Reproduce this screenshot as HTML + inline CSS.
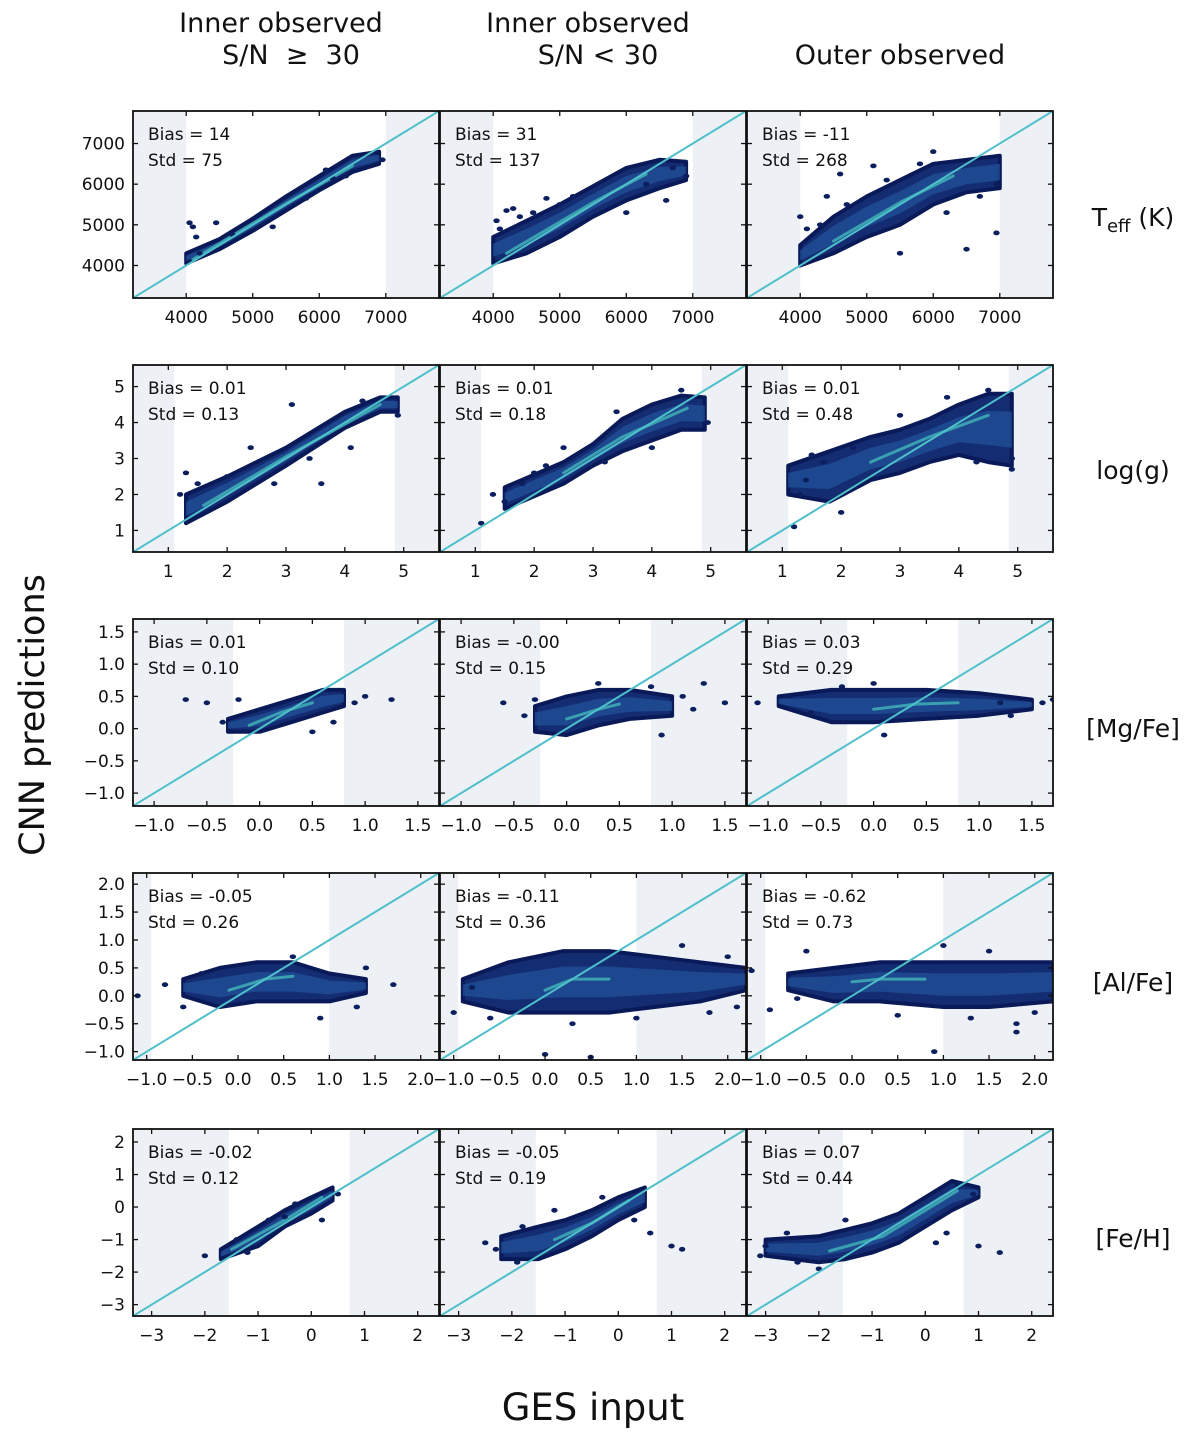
<!DOCTYPE html>
<html><head><meta charset="utf-8"><style>
body{margin:0;background:#fff}
svg{display:block;font-family:"DejaVu Sans","Liberation Sans",sans-serif}
</style></head><body>
<svg id="fig" width="1200" height="1433" viewBox="0 0 1200 1433" xmlns="http://www.w3.org/2000/svg">
<g font-size="27" text-anchor="middle" fill="#111">
<text x="281" y="32">Inner observed</text>
<text x="291" y="64" xml:space="preserve">S/N  ≥  30</text>
<text x="588" y="32">Inner observed</text>
<text x="598" y="64">S/N &lt; 30</text>
<text x="900" y="64">Outer observed</text>
</g>
<g font-size="25" text-anchor="middle" fill="#111">
<text x="1133" y="226">T<tspan font-size="18" dy="6">eff</tspan><tspan dy="-6"> (K)</tspan></text>
<text x="1133" y="479">log(g)</text>
<text x="1133" y="737">[Mg/Fe]</text>
<text x="1133" y="991">[Al/Fe]</text>
<text x="1133" y="1247">[Fe/H]</text>
</g>
<text x="0" y="0" transform="translate(44,715) rotate(-90)" font-size="35" text-anchor="middle" fill="#111">CNN predictions</text>
<text x="593" y="1420" font-size="37" text-anchor="middle" fill="#111">GES input</text>
<g id="panels"></g>
</svg>
<script>
const rowNames = ["teff","logg","mgfe","alfe","feh"];
const rowRanges = [[3200,7800],[0.4,5.6],[-1.2,1.7],[-1.15,2.2],[-3.35,2.4]];
const rowTicks = [[4000,5000,6000,7000],[1,2,3,4,5],[-1.0,-0.5,0.0,0.5,1.0,1.5],[-1.0,-0.5,0.0,0.5,1.0,1.5,2.0],[-3,-2,-1,0,1,2]];
const tickDecimals = [0,0,1,1,0];
const shadeLow = [4000,1.1,-0.25,-0.95,-1.55];
const shadeHigh = [7000,4.85,0.8,1.0,0.72];
const biasVals = [["14","31","-11"],["0.01","0.01","0.01"],["0.01","-0.00","0.03"],["-0.05","-0.11","-0.62"],["-0.02","-0.05","0.07"]];
const stdVals = [["75","137","268"],["0.13","0.18","0.48"],["0.10","0.15","0.29"],["0.26","0.36","0.73"],["0.12","0.19","0.44"]];
// density band per panel: [x, yLow, yHigh]
const bands = [
 [[[4000,4050,4300],[4500,4400,4650],[5000,4850,5150],[5500,5350,5700],[6000,5850,6200],[6500,6300,6700],[6900,6500,6800]],
  [[4000,4050,4700],[4500,4300,5100],[5000,4700,5500],[5500,5200,5950],[6000,5600,6400],[6500,5900,6600],[6900,6100,6550]],
  [[4000,4000,4500],[4500,4300,5200],[5000,4700,5700],[5500,5000,6100],[6000,5500,6500],[6500,5800,6600],[7000,5900,6700]]],
 [[[1.3,1.2,2.0],[2,1.8,2.5],[3,2.8,3.3],[4,3.85,4.3],[4.6,4.3,4.7],[4.9,4.3,4.7]],
  [[1.5,1.6,2.2],[2.5,2.3,2.9],[3,2.8,3.4],[3.5,3.2,4.1],[4,3.5,4.5],[4.5,3.8,4.75],[4.9,3.8,4.7]],
  [[1.1,2.0,2.8],[1.8,1.8,3.2],[2.5,2.4,3.6],[3,2.6,3.8],[3.5,2.9,4.1],[4,3.1,4.5],[4.5,2.9,4.8],[4.9,2.8,4.8]]],
 [[[-0.3,-0.05,0.15],[0,-0.05,0.3],[0.3,0.1,0.45],[0.6,0.25,0.6],[0.8,0.35,0.6]],
  [[-0.3,-0.05,0.35],[0,-0.1,0.5],[0.3,0.05,0.6],[0.6,0.15,0.6],[1.0,0.2,0.5]],
  [[-0.9,0.35,0.5],[-0.4,0.1,0.6],[0,0.1,0.6],[0.5,0.15,0.6],[1.0,0.2,0.55],[1.5,0.3,0.45]]],
 [[[-0.6,0.0,0.3],[-0.2,-0.2,0.5],[0.2,-0.1,0.6],[0.6,-0.1,0.6],[1.0,-0.1,0.4],[1.4,0.05,0.3]],
  [[-0.9,-0.1,0.3],[-0.4,-0.3,0.6],[0.2,-0.3,0.8],[0.7,-0.3,0.8],[1.2,-0.2,0.7],[1.7,-0.1,0.6],[2.2,0.1,0.5]],
  [[-0.7,0.1,0.4],[-0.2,-0.1,0.5],[0.3,-0.1,0.6],[1.0,-0.2,0.6],[1.5,-0.2,0.6],[2.2,-0.1,0.6]]],
 [[[-1.7,-1.6,-1.3],[-1,-1.2,-0.6],[-0.5,-0.6,-0.1],[0,-0.2,0.3],[0.4,0.2,0.6]],
  [[-2.2,-1.6,-0.9],[-1.5,-1.6,-0.6],[-1,-1.3,-0.4],[-0.5,-0.9,-0.1],[0,-0.4,0.3],[0.5,0,0.6]],
  [[-3,-1.5,-1.0],[-2,-1.7,-0.9],[-1.5,-1.6,-0.7],[-1,-1.4,-0.5],[-0.5,-1.1,-0.2],[0,-0.6,0.3],[0.5,-0.1,0.8],[1.0,0.3,0.6]]]
];
// bright core ridge per panel: [x, y]
const cores = [
 [[[4100,4150],[5500,5520],[6500,6450]],[[4200,4300],[5500,5550],[6300,6250]],[[4500,4600],[5500,5550],[6300,6200]]],
 [[[1.6,1.7],[3,3.05],[4.6,4.5]],[[2.5,2.6],[3.5,3.6],[4.6,4.4]],[[2.5,2.9],[3.5,3.6],[4.5,4.2]]],
 [[[-0.1,0.05],[0.2,0.25],[0.5,0.4]],[[0.0,0.15],[0.3,0.3],[0.5,0.38]],[[0.0,0.3],[0.4,0.38],[0.8,0.4]]],
 [[[-0.1,0.1],[0.3,0.3],[0.6,0.35]],[[0.0,0.1],[0.3,0.3],[0.7,0.3]],[[0.0,0.25],[0.3,0.3],[0.8,0.3]]],
 [[[-1.5,-1.3],[-0.5,-0.4],[0.2,0.3]],[[-1.2,-1.0],[-0.5,-0.5],[0.2,0.2]],[[-1.8,-1.35],[-0.8,-0.9],[0.6,0.5]]]
];
// scattered outliers per panel: [x, y]
const outliers = [
 [[[4050,5050],[4100,4950],[4150,4700],[4450,5050],[5300,4950],[6100,6350],[6400,6200],[6950,6600],[4200,4300],[4700,4750],[5800,5650],[6200,6150]],
  [[4050,5100],[4200,5350],[4300,5400],[4800,5650],[5000,5500],[6000,5300],[6600,5600],[6900,6200],[4100,4900],[4400,5200],[4600,5300],[6300,6000],[6700,6400],[5200,5700]],
  [[4000,5200],[4100,4900],[4400,5700],[4600,6250],[5100,6450],[5500,4300],[6500,4400],[6950,4800],[6000,6800],[6950,6000],[4300,5000],[4700,5500],[5300,6100],[5800,6500],[6700,5700],[6200,5300]]],
 [[[1.2,2.0],[1.3,2.6],[2.4,3.3],[2.8,2.3],[3.1,4.5],[3.6,2.3],[4.1,3.3],[4.9,4.2],[1.5,2.3],[2.0,2.5],[3.4,3.0],[4.3,4.6]],
  [[1.1,1.2],[1.3,2.0],[1.5,1.8],[2.0,2.6],[2.5,3.3],[3.4,4.3],[4.5,4.9],[4.95,4.0],[1.8,2.3],[2.2,2.8],[3.2,2.9],[4.0,3.3]],
  [[1.2,1.1],[1.3,2.0],[1.5,3.1],[2.0,1.5],[3.0,4.2],[4.5,4.9],[4.9,3.0],[4.9,2.7],[1.4,2.4],[1.7,2.9],[2.2,3.3],[3.8,4.7],[4.3,2.9]]],
 [[[-0.7,0.45],[-0.5,0.4],[-0.2,0.45],[0.9,0.4],[1.0,0.5],[1.25,0.45],[0.5,-0.05],[-0.35,0.1],[0.7,0.1]],
  [[-0.6,0.4],[-0.3,0.45],[0.8,0.65],[1.1,0.5],[1.3,0.7],[1.5,0.4],[0.9,-0.1],[-0.4,0.2],[1.2,0.3],[0.3,0.7]],
  [[-1.1,0.4],[-0.8,0.5],[-0.3,0.65],[1.2,0.4],[1.6,0.4],[1.7,0.45],[0.1,-0.1],[-0.6,0.25],[1.3,0.2],[0.0,0.7]]],
 [[[-1.1,0.0],[-0.8,0.2],[-0.6,-0.2],[1.3,-0.2],[1.7,0.2],[1.4,0.5],[0.9,-0.4],[-0.4,0.4],[0.6,0.7]],
  [[-1.0,-0.3],[-0.8,0.15],[0.0,-1.05],[0.5,-1.1],[1.5,0.9],[2.0,0.7],[1.8,-0.3],[-0.6,-0.4],[0.3,-0.5],[1.0,-0.4],[2.1,-0.2]],
  [[-1.1,0.45],[-0.9,-0.25],[-0.5,0.8],[0.9,-1.0],[1.0,0.9],[1.8,-0.5],[1.8,-0.65],[-0.6,-0.05],[0.5,-0.35],[1.3,-0.4],[2.0,-0.3],[1.5,0.8]]],
 [[[-2.0,-1.5],[-1.4,-1.0],[-0.5,-0.3],[0.2,-0.4],[0.5,0.4],[-0.3,0.1],[-1.2,-1.4],[-0.8,-0.4]],
  [[-2.3,-1.3],[-1.8,-0.6],[-1.2,-0.1],[0.6,-0.8],[1.0,-1.2],[1.2,-1.3],[-0.3,0.3],[-2.5,-1.1],[-1.9,-1.7],[0.3,-0.4]],
  [[-3.0,-1.2],[-2.6,-0.8],[-2.0,-1.9],[0.4,-0.8],[1.0,-1.2],[1.4,-1.4],[0.6,0.7],[-3.1,-1.5],[-2.4,-1.7],[-1.5,-0.4],[0.2,-1.1],[0.9,0.4]]]
];

const colX = [133,440,747], rowY = [111,365,619,873,1129], PW = 306, PH = 187;
const NS = "http://www.w3.org/2000/svg";
const root = document.getElementById("panels");
function mk(tag, attrs, parent){const e=document.createElementNS(NS,tag);for(const k in attrs)e.setAttribute(k,attrs[k]);parent.appendChild(e);return e;}
function fmt(v,d){let s=v.toFixed(d);if(v<0)s="\u2212"+s.slice(1);return s;}

for(let r=0;r<5;r++){
 const [lo,hi]=rowRanges[r];
 for(let c=0;c<3;c++){
  const x0=colX[c], y0=rowY[r];
  const sx=v=>x0+(v-lo)/(hi-lo)*PW;
  const sy=v=>y0+PH-(v-lo)/(hi-lo)*PH;
  const g=mk("g",{},root);
  
  
  const cid="clip"+r+c;
  const cp=mk("clipPath",{id:cid},g); mk("rect",{x:x0,y:y0,width:PW,height:PH},cp);
  const inner=mk("g",{"clip-path":"url(#"+cid+")"},g);
  const s1=mk("rect",{x:x0,y:y0,width:sx(shadeLow[r])-x0,height:PH,fill:"#edf1f6"},inner);
  
  
  const s2=mk("rect",{x:sx(shadeHigh[r]),y:y0,width:x0+PW-sx(shadeHigh[r]),height:PH,fill:"#edf1f6"},inner);
  
  
  const b=bands[r][c];
  let d="M"+b.map(p=>sx(p[0]).toFixed(1)+","+sy(p[2]).toFixed(1)).join(" L");
  d+=" L"+b.slice().reverse().map(p=>sx(p[0]).toFixed(1)+","+sy(p[1]).toFixed(1)).join(" L")+" Z";
  const band=mk("path",{d:d,fill:"#142c72",stroke:"#0a1a58","stroke-width":4,"stroke-linejoin":"round"},inner);
  
  
  const inner2="M"+b.map(p=>sx(p[0]).toFixed(1)+","+sy(p[1]*0.25+p[2]*0.75).toFixed(1)).join(" L")+" L"+b.slice().reverse().map(p=>sx(p[0]).toFixed(1)+","+sy(p[1]*0.75+p[2]*0.25).toFixed(1)).join(" L")+" Z";
  const bi=mk("path",{d:inner2,fill:"#1f4f95",opacity:0.8},inner);
  
  
  const co=cores[r][c];
  const cl=mk("polyline",{points:co.map(p=>sx(p[0]).toFixed(1)+","+sy(p[1]).toFixed(1)).join(" "),fill:"none",stroke:"#3aa0b0","stroke-width":3,"stroke-linecap":"round"},inner);
  
  
  for(const p of outliers[r][c]){
   const e=mk("ellipse",{cx:sx(p[0]),cy:sy(p[1]),rx:3.2,ry:2.4,fill:"#0b1f5e"},inner);
   
   
  }
  const diag=mk("line",{x1:sx(lo),y1:sy(lo),x2:sx(hi),y2:sy(hi),stroke:"#4fbfca","stroke-width":2},inner);
  
  
  for(const t of rowTicks[r]){
   const X=sx(t), Y=sy(t);
   mk("line",{x1:X,y1:y0+PH,x2:X,y2:y0+PH-5,stroke:"#111","stroke-width":1.3},g);
   mk("line",{x1:X,y1:y0,x2:X,y2:y0+5,stroke:"#111","stroke-width":1.3},g);
   mk("line",{x1:x0,y1:Y,x2:x0+5,y2:Y,stroke:"#111","stroke-width":1.3},g);
   mk("line",{x1:x0+PW,y1:Y,x2:x0+PW-5,y2:Y,stroke:"#111","stroke-width":1.3},g);
   const tx=mk("text",{x:X,y:y0+PH+25,"font-size":17,"text-anchor":"middle",fill:"#111"},g);
   tx.textContent=fmt(t,tickDecimals[r]);
   
   
   if(c===0){
    const ty=mk("text",{x:x0-8,y:Y+6,"font-size":17,"text-anchor":"end",fill:"#111"},g);
    ty.textContent=fmt(t,tickDecimals[r]);
    
    
   }
  }
  const fr=mk("rect",{x:x0,y:y0,width:PW,height:PH,fill:"none",stroke:"#111","stroke-width":1.8},g);
  
  
  const t1=mk("text",{x:x0+15,y:y0+29,"font-size":17,fill:"#111"},g);
  t1.textContent="Bias = "+biasVals[r][c];
  
  
  const t2=mk("text",{x:x0+15,y:y0+55,"font-size":17,fill:"#111"},g);
  t2.textContent="Std = "+stdVals[r][c];
  
  
 }
}
</script>
</body></html>
